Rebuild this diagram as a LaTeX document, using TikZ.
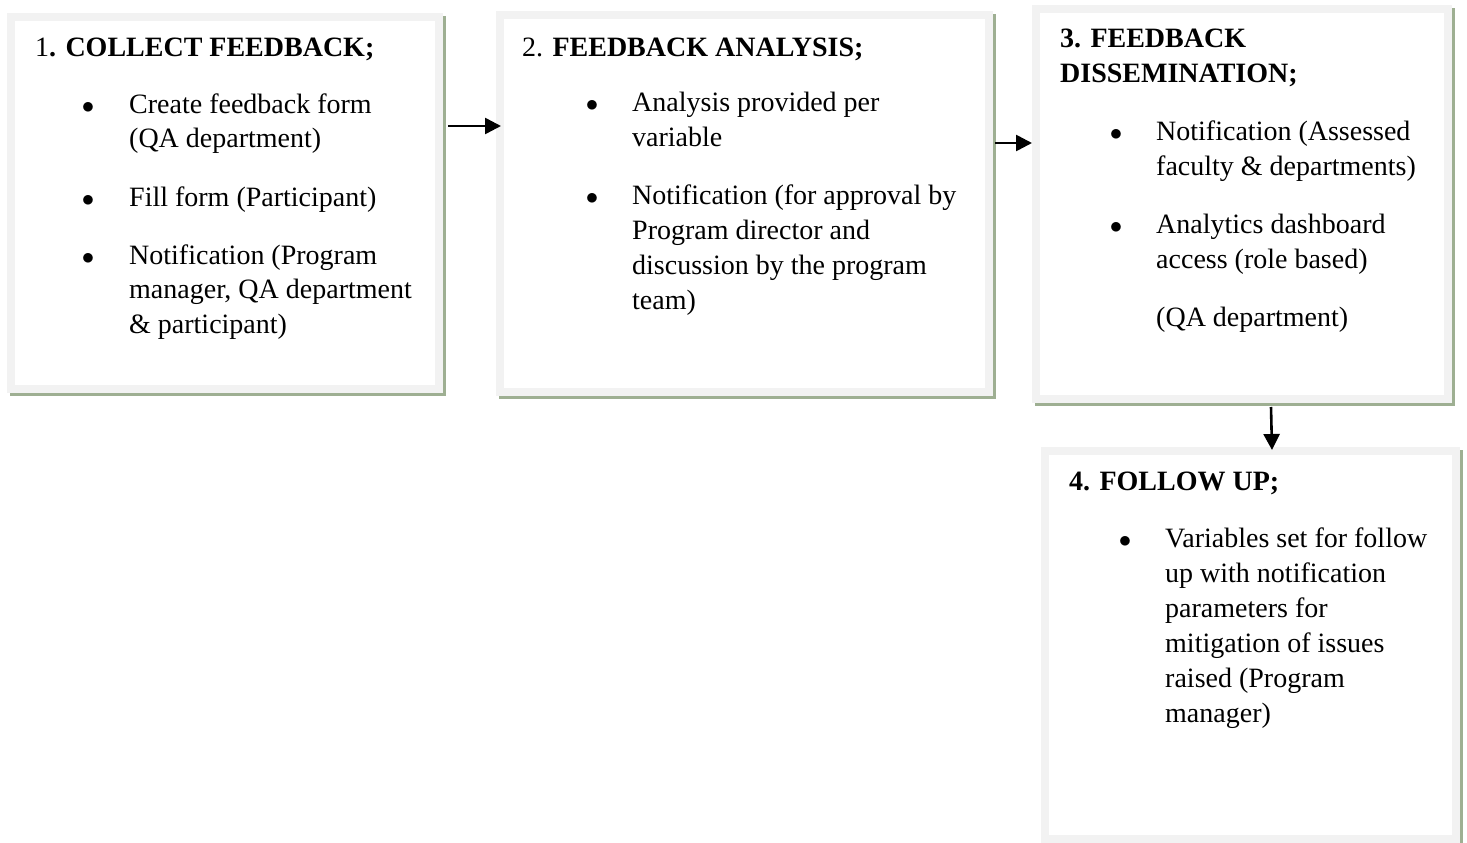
\documentclass[tikz,border=0pt]{standalone}
\usepackage{fontspec}
\setmainfont{Liberation Serif}
\usepackage{tikz}
\usetikzlibrary{arrows.meta,positioning}
\definecolor{framegrey}{RGB}{242,242,242}
\definecolor{shadegreen}{RGB}{158,175,146}
\newcommand{\boxfont}{\fontsize{28}{35}\selectfont}
\newcommand{\bul}{\makebox[0pt]{$\bullet$}}
\tikzset{
  card/.style  ={rectangle, draw=framegrey, line width=8pt, fill=white,
                 anchor=north west, inner sep=0pt, outer sep=0pt,
                 preaction={draw=shadegreen, line width=8pt,
                            transform canvas={shift={(3pt,-3pt)}}}},
  head/.style  ={anchor=base west, inner sep=0pt, font=\boxfont},
  items/.style ={anchor=base west, inner sep=0pt, font=\boxfont},
  flow/.style  ={-{Triangle[length=16pt,width=16pt]}, line width=2.6pt},
}

\begin{document}
\begin{tikzpicture}[x=1pt, y=1pt]
    \useasboundingbox (0,0) rectangle (1467,-843);

    % boxes
    \node[card, minimum width=428pt, minimum height=372pt] (collect) at (11,-17) {};
    \node[card, minimum width=489pt, minimum height=377pt] (analysis) at (500,-15) {};
    \node[card, minimum width=412pt, minimum height=390pt] (dissem) at (1036,-9) {};
    \node[card, minimum width=411pt, minimum height=388pt] (follow) at (1045,-451) {};

    % headings
    \node[head] (hcollect) at (35,-57) {1\textbf{. COLLECT FEEDBACK;}};
    \node[head] (hanalysis) at (522,-57) {2. \textbf{FEEDBACK ANALYSIS;}};
    \node[head] (hdissem) at (1060,-48)
       {\begin{tabular}[t]{@{}l@{}}\textbf{3. FEEDBACK}\\\textbf{DISSEMINATION;}\end{tabular}};
    \node[head] (hfollow) at (1069,-490) {\textbf{4. FOLLOW UP;}};

    % bullet lists
    \node[items] (lcollect) at (88,-113) {\begin{tabular}[t]{@{}c@{\hspace{41pt}}l@{}}
       \bul & Create feedback form\\
            & (QA department)\\[23pt]
       \bul & Fill form (Participant)\\[23pt]
       \bul & Notification (Program\\
            & manager, QA department\\
            & \& participant)
    \end{tabular}};
    \node[items] (lanalysis) at (592,-111) {\begin{tabular}[t]{@{}c@{\hspace{40pt}}l@{}}
       \bul & Analysis provided per\\
            & variable\\[23pt]
       \bul & Notification (for approval by\\
            & Program director and\\
            & discussion by the program\\
            & team)
    \end{tabular}};
    \node[items] (ldissem) at (1116,-140) {\begin{tabular}[t]{@{}c@{\hspace{40pt}}l@{}}
       \bul & Notification (Assessed\\
            & faculty \& departments)\\[23pt]
       \bul & Analytics dashboard\\
            & access (role based)\\[23pt]
            & (QA department)
    \end{tabular}};
    \node[items] (lfollow) at (1125,-547) {\begin{tabular}[t]{@{}c@{\hspace{40pt}}l@{}}
       \bul & Variables set for follow\\
            & up with notification\\
            & parameters for\\
            & mitigation of issues\\
            & raised (Program\\
            & manager)
    \end{tabular}};

    % flows
    \draw[flow] ([shift={(9,-109)}]collect.north east) -- ([shift={(1,-111)}]analysis.north west);
    \draw[flow] ([shift={(6,-128)}]analysis.north east) -- ([shift={(-4,-134)}]dissem.north west);
    \draw[flow] ([shift={(235,-8)}]dissem.south west) -- ([shift={(227,1)}]follow.north west);
\end{tikzpicture}
\end{document}
